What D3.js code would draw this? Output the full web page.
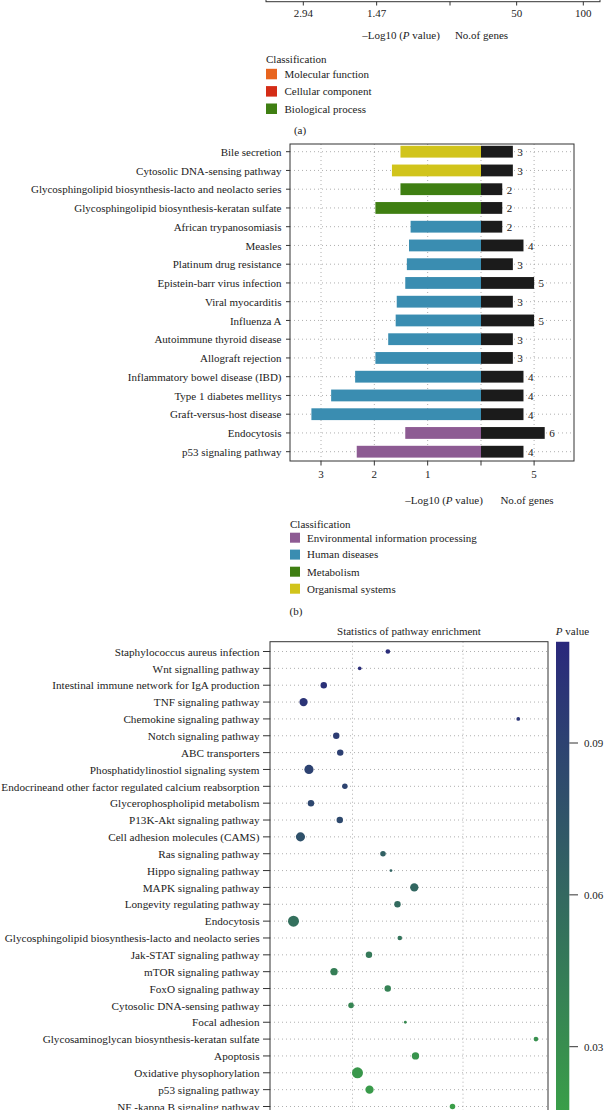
<!DOCTYPE html>
<html><head><meta charset="utf-8">
<script src="https://cdn.jsdelivr.net/npm/d3@7"></script>
<style>
html,body{margin:0;padding:0;background:#fff;}
svg{display:block;font-family:"Liberation Serif","Times New Roman",serif;}
</style></head><body>
<svg id="chart" width="610" height="1110"></svg>
<script>
// ---------- Panel (a) (only the bottom of it is visible) ----------
const ticksA_logP = [2.94, 1.47];
const ticksA_genes = [50, 100];
const classesA = ["Molecular function", "Cellular component", "Biological process"];

// ---------- Panel (b) ----------
const pathwaysB = ["Bile secretion", "Cytosolic DNA-sensing pathway",
  "Glycosphingolipid biosynthesis-lacto and neolacto series",
  "Glycosphingolipid biosynthesis-keratan sulfate", "African trypanosomiasis", "Measles",
  "Platinum drug resistance", "Epistein-barr virus infection", "Viral myocarditis", "Influenza A",
  "Autoimmune thyroid disease", "Allograft rejection", "Inflammatory bowel disease (IBD)",
  "Type 1 diabetes mellitys", "Graft-versus-host disease", "Endocytosis", "p53 signaling pathway"];
const classB = ["Organismal systems", "Organismal systems", "Metabolism", "Metabolism",
  "Human diseases", "Human diseases", "Human diseases", "Human diseases", "Human diseases",
  "Human diseases", "Human diseases", "Human diseases", "Human diseases", "Human diseases",
  "Human diseases", "Environmental information processing", "Environmental information processing"];
const negLog10PB = [1.51, 1.67, 1.51, 1.98, 1.32, 1.35, 1.39, 1.42, 1.58, 1.60, 1.74, 1.98, 2.36, 2.81, 3.18, 1.42, 2.33];
const genesB = [3, 3, 2, 2, 2, 4, 3, 5, 3, 5, 3, 3, 4, 4, 4, 6, 4];
const ticksB_logP = [3, 2, 1];
const ticksB_genes = [5];
const classesB = ["Environmental information processing", "Human diseases", "Metabolism", "Organismal systems"];

// ---------- Panel (c) ----------
const pathwaysC = ["Staphylococcus aureus infection", "Wnt signalling pathway",
  "Intestinal immune network for IgA production", "TNF signaling pathway",
  "Chemokine signaling pathway", "Notch signaling pathway", "ABC transporters",
  "Phosphatidylinostiol signaling system", "Endocrineand other factor regulated calcium reabsorption",
  "Glycerophospholipid metabolism", "P13K-Akt signaling pathway", "Cell adhesion molecules (CAMS)",
  "Ras signaling pathway", "Hippo signaling pathway", "MAPK signaling pathway",
  "Longevity regulating pathway", "Endocytosis", "Glycosphingolipid biosynthesis-lacto and neolacto series",
  "Jak-STAT signaling pathway", "mTOR signaling pathway", "FoxO signaling pathway",
  "Cytosolic DNA-sensing pathway", "Focal adhesion ", "Glycosaminoglycan biosynthesis-keratan sulfate",
  "Apoptosis", "Oxidative physophorylation", "p53 signaling pathway", "NF -kappa B signaling pathway"];
const richFactorC = [0.132, 0.1065, 0.074, 0.0557, 0.250, 0.0853, 0.0889, 0.0606, 0.0931,
  0.0624, 0.0885, 0.0529, 0.1276, 0.1348, 0.1559, 0.1407, 0.0466, 0.1428,
  0.1149, 0.0833, 0.1319, 0.0987, 0.1478, 0.266, 0.157, 0.1045, 0.1154, 0.1905];
const pValueC = [0.106, 0.105, 0.103, 0.101, 0.099, 0.094, 0.092, 0.090, 0.088,
  0.086, 0.084, 0.078, 0.066, 0.064, 0.061, 0.058, 0.054, 0.051,
  0.047, 0.043, 0.040, 0.037, 0.034, 0.029, 0.026, 0.023, 0.021, 0.018];
const countC = [3, 2, 5, 7, 2, 5, 5, 8, 4, 5, 5, 8, 4, 1, 7, 5, 10, 3, 5, 6, 5, 4, 1, 3, 6, 10, 7, 4];
const gridC = [0.1, 0.2];
const ticksC_p = [0.09, 0.06, 0.03];

// ---------- styles ----------
const colorA = {"Molecular function": "#E8641E", "Cellular component": "#D42C16", "Biological process": "#3F7F12"};
const colorB = {"Environmental information processing": "#8D5B93", "Human diseases": "#3A8DB1",
  "Metabolism": "#3F7F12", "Organismal systems": "#D1C41B"};
const ink = "#222";
const frameCol = "#333";
const gridCol = "#9a9a9a";
const FS = 11;

const svg = d3.select("#chart");

function dotted(g, x1, y1, x2, y2) {
  g.append("line").attr("x1", x1).attr("y1", y1).attr("x2", x2).attr("y2", y2)
    .attr("stroke", gridCol).attr("stroke-width", 0.8).attr("stroke-dasharray", "1,3");
}
function txt(g, x, y, s, anchor, size) {
  return g.append("text").attr("x", x).attr("y", y).attr("dy", "0.35em")
    .attr("text-anchor", anchor || "start").attr("font-size", size || FS).attr("fill", ink).text(s);
}
function pTitle(g, x, y, pre, post) {
  const t = g.append("text").attr("x", x).attr("y", y).attr("dy", "0.35em").attr("text-anchor", "middle")
    .attr("font-size", FS).attr("fill", ink);
  t.append("tspan").text(pre);
  t.append("tspan").attr("font-style", "italic").text("P");
  t.append("tspan").text(post);
}

// ===== Panel (a) bottom =====
{
  const g = svg.append("g");
  const zero = 450;
  const xL = d3.scaleLinear().domain([0, 2.94]).range([zero, 303.3]);
  const xR = d3.scaleLinear().domain([0, 100]).range([zero, 583.3]);
  g.append("rect").attr("x", 266).attr("y", -40).attr("width", 334).attr("height", 41.7)
    .attr("fill", "none").attr("stroke", frameCol).attr("stroke-width", 1);
  const tks = [{x: xL(0), l: ""}].concat(ticksA_logP.map(v => ({x: xL(v), l: String(v)})),
    ticksA_genes.map(v => ({x: xR(v), l: String(v)})));
  tks.forEach(t => {
    g.append("line").attr("x1", t.x).attr("x2", t.x).attr("y1", 1.7).attr("y2", 5.5).attr("stroke", frameCol);
    txt(g, t.x, 13.5, t.l, "middle");
  });
  pTitle(g, 401, 35, "–Log10 (", " value)");
  txt(g, 481.5, 35, "No.of genes", "middle");
  txt(g, 266, 59.5, "Classification", "start");
  classesA.forEach((c, i) => {
    const y = [74, 91.3, 108.7][i];
    g.append("rect").attr("x", 266).attr("y", y - 5.2).attr("width", 11).attr("height", 10.5).attr("fill", colorA[c]);
    txt(g, 284.5, y, c, "start");
  });
  txt(g, 300, 130, "(a)", "middle");
}

// ===== Panel (b) =====
{
  const g = svg.append("g");
  const L = 290, R = 574, T = 144, B = 461, zero = 481;
  const xL = d3.scaleLinear().domain([0, 1]).range([zero, zero - 53.33]);
  const xR = d3.scaleLinear().domain([0, 5]).range([zero, 534.1]);
  const y = d3.scalePoint().domain(pathwaysB).range([151.7, 451.7]);
  pathwaysB.forEach(p => dotted(g, L, y(p), R, y(p)));
  const gx = [0].concat(ticksB_logP).map(v => xL(v)).concat(ticksB_genes.map(v => xR(v)));
  gx.forEach(x => dotted(g, x, T, x, B));
  const bh = 11.8;
  pathwaysB.forEach((p, i) => {
    g.append("rect").attr("x", xL(negLog10PB[i])).attr("y", y(p) - bh / 2)
      .attr("width", zero - xL(negLog10PB[i])).attr("height", bh).attr("fill", colorB[classB[i]]);
    g.append("rect").attr("x", zero).attr("y", y(p) - bh / 2)
      .attr("width", xR(genesB[i]) - zero).attr("height", bh).attr("fill", "#1b1b1b");
    txt(g, xR(genesB[i]) + 4.5, y(p) + 0.5, String(genesB[i]), "start");
    g.append("line").attr("x1", L - 4).attr("x2", L).attr("y1", y(p)).attr("y2", y(p)).attr("stroke", frameCol);
    txt(g, L - 8.5, y(p) + 0.3, p, "end");
  });
  g.append("rect").attr("x", L).attr("y", T).attr("width", R - L).attr("height", B - T)
    .attr("fill", "none").attr("stroke", frameCol).attr("stroke-width", 1);
  const tks = ticksB_logP.map(v => ({x: xL(v), l: String(v)})).concat([{x: xL(0), l: ""}],
    ticksB_genes.map(v => ({x: xR(v), l: String(v)})));
  tks.forEach(t => {
    g.append("line").attr("x1", t.x).attr("x2", t.x).attr("y1", B).attr("y2", B + 4.5).attr("stroke", frameCol);
    txt(g, t.x, 474, t.l, "middle");
  });
  pTitle(g, 444, 500, "–Log10 (", " value)");
  txt(g, 527, 500, "No.of genes", "middle");
  txt(g, 290, 524, "Classification", "start");
  classesB.forEach((c, i) => {
    const yy = [537.7, 554.6, 571.7, 588.7][i];
    g.append("rect").attr("x", 290).attr("y", yy - 5).attr("width", 10).attr("height", 10).attr("fill", colorB[c]);
    txt(g, 307, yy, c, "start");
  });
  txt(g, 296, 611, "(b)", "middle");
}

// ===== Panel (c) =====
{
  const g = svg.append("g");
  const L = 270, R = 548, T = 641.7, B = 1180;
  const x = d3.scaleLinear().domain([0.1, 0.2]).range([352.5, 463]);
  const y = d3.scalePoint().domain(pathwaysC).range([651.5, 1106.5]);
  const cy = d3.scaleLinear().domain([0.03, 0.09]).range([1046.7, 743]);
  const pMin = 0.01, pMax = 0.11;
  const col = d3.scaleLinear().domain([pMin, pMax]).range(["#3BA844", "#2A287C"]).interpolate(d3.interpolateRgb);
  const r = d3.scaleLinear().domain([1, 10]).range([1.4, 5.5]);

  txt(g, 409, 631, "Statistics of pathway enrichment", "middle");
  pathwaysC.forEach(p => dotted(g, L, y(p), R, y(p)));
  gridC.forEach(v => dotted(g, x(v), T, x(v), B));
  pathwaysC.forEach((p, i) => {
    g.append("line").attr("x1", L - 7).attr("x2", L).attr("y1", y(p)).attr("y2", y(p)).attr("stroke", frameCol);
    txt(g, L - 10.5, y(p) + 0.3, p, "end", 11.2);
    g.append("circle").attr("cx", x(richFactorC[i])).attr("cy", y(p)).attr("r", r(countC[i]))
      .attr("fill", col(pValueC[i]));
  });
  g.append("rect").attr("x", L).attr("y", T).attr("width", R - L).attr("height", B - T)
    .attr("fill", "none").attr("stroke", frameCol).attr("stroke-width", 1);

  const defs = svg.append("defs");
  const grad = defs.append("linearGradient").attr("id", "pgrad")
    .attr("x1", 0).attr("x2", 0).attr("y1", 0).attr("y2", 1);
  d3.range(0, 1.0001, 0.1).forEach(t => {
    grad.append("stop").attr("offset", t).attr("stop-color", col(pMax - t * (pMax - pMin)));
  });
  g.append("rect").attr("x", 556).attr("y", cy(pMax)).attr("width", 13.3)
    .attr("height", cy(pMin) - cy(pMax)).attr("fill", "url(#pgrad)");
  ticksC_p.forEach(v => {
    g.append("line").attr("x1", 569.3).attr("x2", 578).attr("y1", cy(v)).attr("y2", cy(v)).attr("stroke", frameCol);
    txt(g, 584, cy(v), v.toFixed(2), "start");
  });
  pTitle(g, 572.5, 631, "", " value");
}
</script>
</body></html>
